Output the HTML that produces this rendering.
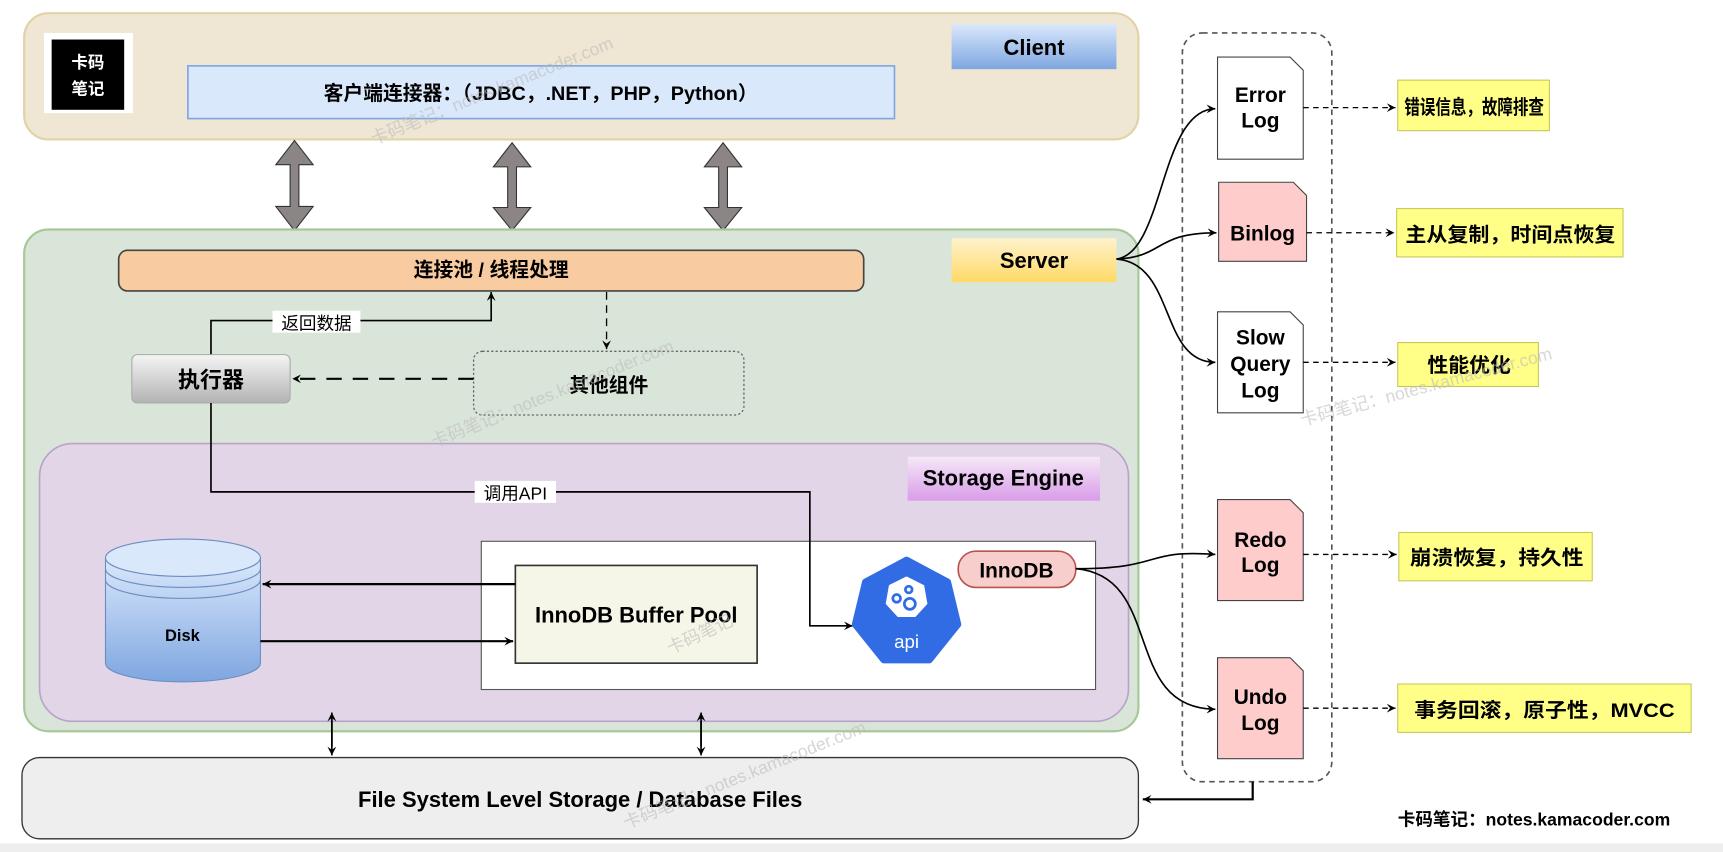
<!DOCTYPE html>
<html><head><meta charset="utf-8"><style>
html,body{margin:0;padding:0;background:#fff;}
svg{display:block;}
text{font-family:"Liberation Sans","Noto Sans CJK SC",sans-serif;}
</style></head><body>
<svg width="1723" height="852" viewBox="0 0 1568 776" preserveAspectRatio="none" xmlns="http://www.w3.org/2000/svg">
<defs>
<linearGradient id="gb" x1="0" y1="0" x2="0" y2="1"><stop offset="0" stop-color="#dae8fc"/><stop offset="1" stop-color="#7ea6e0"/></linearGradient>
<linearGradient id="gy" x1="0" y1="0" x2="0" y2="1"><stop offset="0" stop-color="#fff2cc"/><stop offset="1" stop-color="#ffd966"/></linearGradient>
<linearGradient id="gv" x1="0" y1="0" x2="0" y2="1"><stop offset="0" stop-color="#f5e8f8"/><stop offset="1" stop-color="#d99ce8"/></linearGradient>
<linearGradient id="gg" x1="0" y1="0" x2="0" y2="1"><stop offset="0" stop-color="#f5f5f5"/><stop offset="1" stop-color="#b3b3b3"/></linearGradient>
<linearGradient id="gd" x1="0" y1="0" x2="0" y2="1"><stop offset="0" stop-color="#dae8fc"/><stop offset="1" stop-color="#7ea6e0"/></linearGradient>
<marker id="a" markerWidth="10" markerHeight="10" refX="8" refY="5" orient="auto" markerUnits="userSpaceOnUse"><path d="M0,1 L8,5 L0,9 L3,5 z" fill="#000"/></marker>
</defs>
<rect x="0" y="768" width="1568" height="8" fill="#eeeeee"/>
<!-- Client -->
<rect x="22" y="12" width="1014" height="115" rx="22" fill="#efe6d3" stroke="#e2d3a6" stroke-width="2"/>
<rect x="40" y="30" width="81" height="73" fill="#fff"/>
<rect x="47" y="36" width="66" height="64" fill="#000"/>
<text x="80" y="62" font-size="15" fill="#fff" text-anchor="middle" font-weight="bold">卡码</text>
<text x="80" y="86" font-size="15" fill="#fff" text-anchor="middle" font-weight="bold">笔记</text>
<rect x="171" y="60" width="643" height="48" fill="#dae8fc" stroke="#7ea6e0" stroke-width="1.5"/>
<text x="492" y="91" font-size="18" font-weight="bold" text-anchor="middle">客户端连接器：（JDBC，.NET，PHP，Python）</text>
<rect x="866" y="22" width="150" height="41" fill="url(#gb)"/>
<text x="941" y="50" font-size="20" font-weight="bold" text-anchor="middle">Client</text>
<!-- big arrows -->
<g fill="#8c8585" stroke="#333" stroke-width="1">
<path d="M268,128 L285,150 L272,150 L272,188 L285,188 L268,210 L251,188 L264,188 L264,150 L251,150 z"/>
<path d="M466,130 L483,152 L470,152 L470,189 L483,189 L466,210 L449,189 L462,189 L462,152 L449,152 z"/>
<path d="M658,130 L675,152 L662,152 L662,189 L675,189 L658,210 L641,189 L654,189 L654,152 L641,152 z"/>
</g>
<!-- Server -->
<rect x="22" y="209" width="1014" height="457" rx="22" fill="#dae5d9" stroke="#a7c99a" stroke-width="2"/>
<rect x="866" y="217" width="150" height="40" fill="url(#gy)"/>
<text x="941" y="244" font-size="20" font-weight="bold" text-anchor="middle">Server</text>
<rect x="108" y="228" width="678" height="37" rx="8" fill="#f8cca0" stroke="#444" stroke-width="1.5"/>
<text x="447" y="252" font-size="18" font-weight="bold" text-anchor="middle">连接池 / 线程处理</text>
<polyline points="192,323 192,292 447,292 447,266" fill="none" stroke="#000" stroke-width="1.5" marker-end="url(#a)"/>
<rect x="248" y="283" width="80" height="20" fill="#fff"/>
<text x="288" y="300" font-size="16" text-anchor="middle">返回数据</text>
<rect x="120" y="323" width="144" height="44" rx="5" fill="url(#gg)" stroke="#aaa"/>
<text x="192" y="353" font-size="20" font-weight="bold" text-anchor="middle">执行器</text>
<rect x="431" y="320" width="246" height="58" rx="8" fill="none" stroke="#666" stroke-width="1.2" stroke-dasharray="2,2"/>
<text x="554" y="357" font-size="18" font-weight="bold" text-anchor="middle">其他组件</text>
<line x1="552" y1="266" x2="552" y2="318" stroke="#000" stroke-width="1.2" stroke-dasharray="7,5" marker-end="url(#a)"/>
<line x1="431" y1="345" x2="266" y2="345" stroke="#000" stroke-width="2" stroke-dasharray="14,10" marker-end="url(#a)"/>
<!-- Storage -->
<rect x="36" y="404" width="991" height="253" rx="30" fill="#e1d5e7" stroke="#b9a3c8" stroke-width="1.5"/>
<rect x="826" y="416" width="175" height="40" fill="url(#gv)"/>
<text x="913" y="442" font-size="20" font-weight="bold" text-anchor="middle">Storage Engine</text>
<rect x="438" y="493" width="559" height="135" fill="#fff" stroke="#555" stroke-width="1"/>
<polyline points="192,367 192,448 737,448 737,570 776,570" fill="none" stroke="#000" stroke-width="1.5" marker-end="url(#a)"/>
<rect x="432" y="438" width="74" height="20" fill="#fff"/>
<text x="469" y="455" font-size="16" text-anchor="middle">调用API</text>
<!-- disk -->
<path d="M96,508 L96,604 A70.5,17 0 0 0 237,604 L237,508" fill="url(#gd)" stroke="#6c8ebf" stroke-width="1"/>
<ellipse cx="166.5" cy="508" rx="70.5" ry="17" fill="#dae8fc" stroke="#6c8ebf"/>
<path d="M96,518 A70.5,17 0 0 0 237,518 M96,528 A70.5,17 0 0 0 237,528" fill="none" stroke="#6c8ebf"/>
<text x="166" y="584" font-size="15" font-weight="bold" text-anchor="middle">Disk</text>
<rect x="469" y="515" width="220" height="89" fill="#f5f5e8" stroke="#333" stroke-width="1.5"/>
<text x="579" y="567" font-size="20" font-weight="bold" text-anchor="middle">InnoDB Buffer Pool</text>
<line x1="469" y1="532" x2="239" y2="532" stroke="#000" stroke-width="2" marker-end="url(#a)"/>
<line x1="237" y1="584" x2="467" y2="584" stroke="#000" stroke-width="2" marker-end="url(#a)"/>
<polygon points="825,510 862.5,530 871.8,568.7 845.8,601.2 804.2,601.2 778.2,568.7 787.5,530" fill="#326ce5" stroke="#326ce5" stroke-width="6" stroke-linejoin="round"/>
<polygon points="825,525 841,533 844,550 833,562 817,562 806,550 809,533" fill="#fff"/>
<g fill="none" stroke="#326ce5" stroke-width="2.5"><circle cx="828" cy="550" r="5"/><circle cx="816" cy="545" r="3.5"/><circle cx="827" cy="537" r="3"/></g>
<text x="825" y="590" font-size="17" fill="#fff" text-anchor="middle">api</text>
<rect x="872" y="502" width="107" height="33" rx="16" fill="#f8cecc" stroke="#b85450" stroke-width="1.5"/>
<text x="925" y="526" font-size="19" font-weight="bold" text-anchor="middle">InnoDB</text>
<!-- FS -->
<rect x="20" y="690" width="1016" height="74" rx="16" fill="#eeeeee" stroke="#333" stroke-width="1.2"/>
<text x="528" y="735" font-size="20" font-weight="bold" text-anchor="middle">File System Level Storage / Database Files</text>
<line x1="302" y1="657" x2="302" y2="688" stroke="#000" stroke-width="1.5" marker-end="url(#a)"/>
<line x1="302" y1="680" x2="302" y2="649" stroke="#000" stroke-width="1.5" marker-end="url(#a)"/>
<line x1="638" y1="657" x2="638" y2="688" stroke="#000" stroke-width="1.5" marker-end="url(#a)"/>
<line x1="638" y1="680" x2="638" y2="649" stroke="#000" stroke-width="1.5" marker-end="url(#a)"/>
<!-- logs container -->
<rect x="1076" y="30" width="136" height="682" rx="18" fill="none" stroke="#555" stroke-width="1.5" stroke-dasharray="5,4"/>
<polyline points="1140,712 1140,728 1040,728" fill="none" stroke="#000" stroke-width="2" marker-end="url(#a)"/>
<g fill="none" stroke="#000" stroke-width="1.5">
<path d="M1016,236 C1060,230 1055,100 1106,99" marker-end="url(#a)"/>
<path d="M1016,236 C1060,234 1050,212 1107,212" marker-end="url(#a)"/>
<path d="M1016,236 C1070,240 1055,330 1106,330" marker-end="url(#a)"/>
<path d="M979,518 C1060,518 1040,500 1106,505" marker-end="url(#a)"/>
<path d="M979,518 C1060,525 1020,645 1106,646" marker-end="url(#a)"/>
</g>
<g stroke="#444" stroke-width="1">
<path d="M1108,52 L1174,52 L1186,64 L1186,145 L1108,145 z" fill="#fff"/>
<path d="M1109,166 L1177,166 L1189,178 L1189,238 L1109,238 z" fill="#ffcccc"/>
<path d="M1108,284 L1174,284 L1186,296 L1186,376 L1108,376 z" fill="#fff"/>
<path d="M1108,455 L1174,455 L1186,467 L1186,547 L1108,547 z" fill="#ffcccc"/>
<path d="M1108,599 L1174,599 L1186,611 L1186,691 L1108,691 z" fill="#ffcccc"/>
</g>
<g font-size="19" font-weight="bold" text-anchor="middle">
<text x="1147" y="93">Error</text><text x="1147" y="116">Log</text>
<text x="1149" y="219">Binlog</text>
<text x="1147" y="314">Slow</text><text x="1147" y="338">Query</text><text x="1147" y="362">Log</text>
<text x="1147" y="498">Redo</text><text x="1147" y="521">Log</text>
<text x="1147" y="641">Undo</text><text x="1147" y="665">Log</text>
</g>
<g stroke="#000" stroke-width="1.2" stroke-dasharray="5,4">
<line x1="1186" y1="98" x2="1270" y2="98" marker-end="url(#a)"/>
<line x1="1189" y1="212" x2="1269" y2="212" marker-end="url(#a)"/>
<line x1="1186" y1="330" x2="1270" y2="330" marker-end="url(#a)"/>
<line x1="1186" y1="505" x2="1271" y2="505" marker-end="url(#a)"/>
<line x1="1186" y1="645" x2="1270" y2="645" marker-end="url(#a)"/>
</g>
<g fill="#ffff88" stroke="#c8c85a" stroke-width="1">
<rect x="1272" y="73" width="138" height="46"/>
<rect x="1271" y="190" width="206" height="44"/>
<rect x="1272" y="312" width="128" height="40"/>
<rect x="1273" y="485" width="176" height="44"/>
<rect x="1272" y="623" width="267" height="44"/>
</g>
<g font-weight="bold">
<text x="1278" y="104" font-size="18" textLength="127" lengthAdjust="spacingAndGlyphs">错误信息，故障排查</text>
<text x="1279" y="220" font-size="18" textLength="191" lengthAdjust="spacingAndGlyphs">主从复制，时间点恢复</text>
<text x="1299" y="339" font-size="18" textLength="76" lengthAdjust="spacingAndGlyphs">性能优化</text>
<text x="1283" y="514" font-size="18" textLength="158" lengthAdjust="spacingAndGlyphs">崩溃恢复，持久性</text>
<text x="1287" y="653" font-size="18" textLength="237" lengthAdjust="spacingAndGlyphs">事务回滚，原子性，MVCC</text>
</g>
<text x="1396" y="752" font-size="16" font-weight="bold" text-anchor="middle">卡码笔记：notes.kamacoder.com</text>
<!-- watermarks -->
<g font-size="16" fill="#bbb" opacity="0.6">
<text transform="translate(340,132) rotate(-22)">卡码笔记：notes.kamacoder.com</text>
<text transform="translate(395,408) rotate(-22)">卡码笔记：notes.kamacoder.com</text>
<text transform="translate(570,755) rotate(-22)">卡码笔记：notes.kamacoder.com</text>
<text transform="translate(1185,388) rotate(-15)">卡码笔记：notes.kamacoder.com</text>
<text transform="translate(610,596) rotate(-25)">卡码笔记</text>
</g>
</svg>
</body></html>
